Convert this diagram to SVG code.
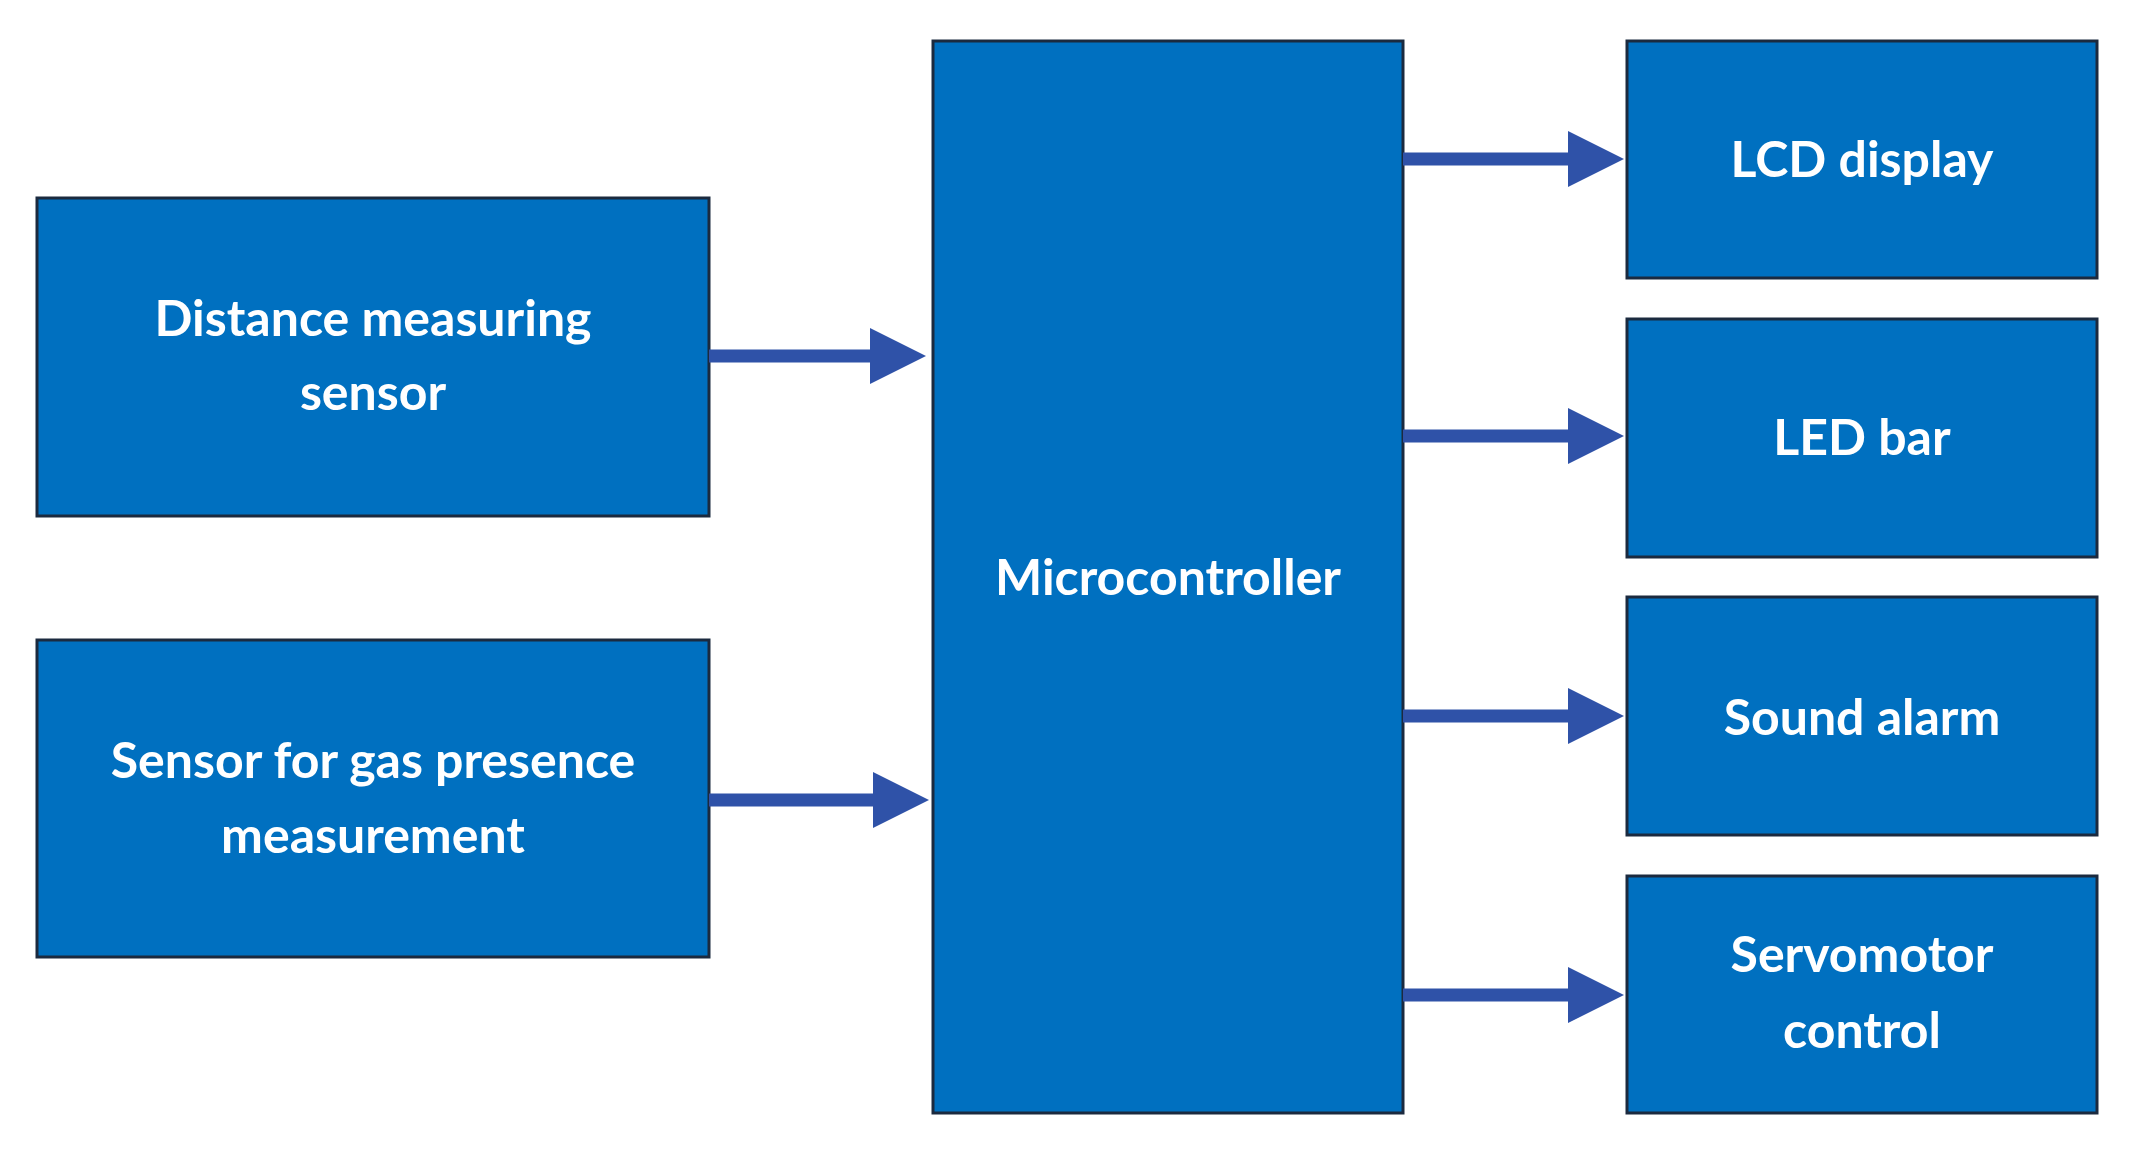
<svg xmlns="http://www.w3.org/2000/svg" width="2129" height="1157" viewBox="0 0 2129 1157">
<style>
.box{fill:#0070C0;stroke:#1B2A3F;stroke-width:3}
.t{fill:#fff;font-family:Lato,"Open Sans",sans-serif;font-weight:bold;font-size:50px;text-anchor:middle}
.c{stroke:#2F52A8;stroke-width:13;fill:none}
.h{fill:#2F52A8}
</style>
<rect width="2129" height="1157" fill="#fff"/>
<g id="distance"><rect class="box" x="37" y="198" width="672" height="318"/><text class="t" x="373" x2="0" y="336">Distance measuring</text><text class="t" x="373" y="410">sensor</text></g>
<g id="gas"><rect class="box" x="37" y="640" width="672" height="317"/><text class="t" x="373" y="778">Sensor for gas presence</text><text class="t" x="373" y="853">measurement</text></g>
<g id="micro"><rect class="box" x="933" y="41" width="470" height="1072"/><text class="t" x="1168" y="595">Microcontroller</text></g>
<g id="lcd"><rect class="box" x="1627" y="41" width="470" height="237"/><text class="t" x="1862" y="177">LCD display</text></g>
<g id="led"><rect class="box" x="1627" y="319" width="470" height="238"/><text class="t" x="1862" y="455">LED bar</text></g>
<g id="sound"><rect class="box" x="1627" y="597" width="470" height="238"/><text class="t" x="1862" y="735">Sound alarm</text></g>
<g id="servo"><rect class="box" x="1627" y="876" width="470" height="237"/><text class="t" x="1862" y="972">Servomotor</text><text class="t" x="1862" y="1048">control</text></g>
<g id="connectors">
<path class="c" d="M709 356H875M709 800H878M1403 159H1572M1403 436H1572M1403 716H1572M1403 995H1572"/>
<path class="h" d="M870 328L926 356L870 384Z"/>
<path class="h" d="M873 772L929 800L873 828Z"/>
<path class="h" d="M1568 131L1624 159L1568 187Z"/>
<path class="h" d="M1568 408L1624 436L1568 464Z"/>
<path class="h" d="M1568 688L1624 716L1568 744Z"/>
<path class="h" d="M1568 967L1624 995L1568 1023Z"/>
</g>
</svg>
